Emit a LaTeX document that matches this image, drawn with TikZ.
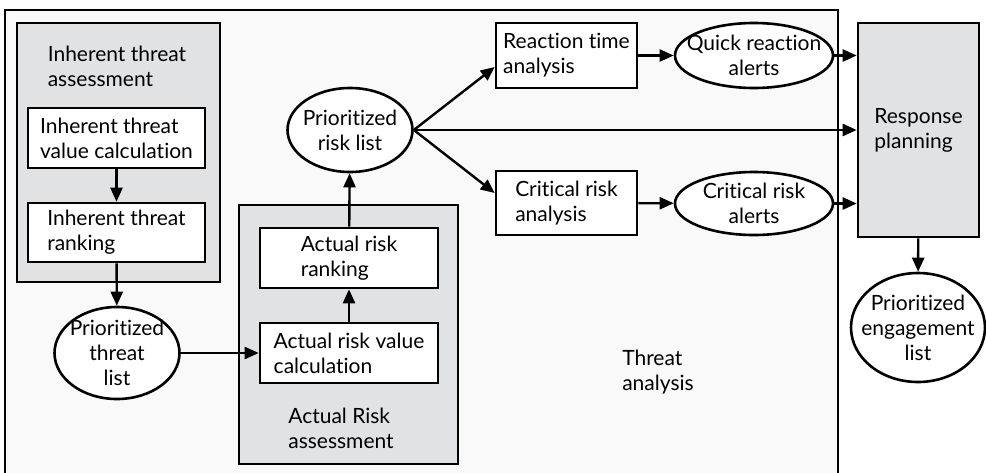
\documentclass[tikz,border=0pt]{standalone}
\usepackage{fontspec}
\setmainfont[Ligatures={NoCommon}]{Lato}
\usetikzlibrary{shapes.geometric,arrows.meta}
\definecolor{panelgray}{HTML}{E1E2E4}
\definecolor{paper}{HTML}{F9F9F9}
\begin{document}
\begin{tikzpicture}[x=1pt, y=-1pt, font=\fontsize{21}{25}\selectfont,
        frame/.style={rectangle, draw, line width=2.6pt, inner sep=0pt},
        procbox/.style={rectangle, draw, fill=white, line width=2.6pt, align=left, inner sep=0pt},
        listnode/.style={ellipse, draw, fill=white, line width=2.6pt, align=center, inner sep=-14pt},
        flow/.style={-{Triangle[length=14pt,width=12pt]}, line width=2.4pt}]

        \useasboundingbox (0, 0) rectangle (986, 472);

        % containers (the outer one runs past the bottom edge)
        \node[frame, fill=paper, minimum width=833, minimum height=474] at (421.5, 247) (threatbox){};
        \node[frame, fill=panelgray, minimum width=203, minimum height=259] at (118.5, 152.5) (inherentbox){};
        \node[frame, fill=panelgray, minimum width=219, minimum height=259] at (348.5, 334.5) (actualbox){};
        \node[frame, fill=panelgray, minimum width=121, minimum height=214, align=left] at (918.5, 130) (planning){Response\\planning};

        \node[align=left] at (117, 66) (inherentlabel){Inherent threat\\assessment};
        \node[align=left] at (341, 428) (actuallabel){Actual Risk\\assessment};
        \node[align=left] at (658, 372) (threatlabel){Threat\\analysis};

        \node[procbox, minimum width=177, minimum height=60] at (116.5, 138) (itvc){Inherent threat\\value calculation};
        \node[procbox, minimum width=177, minimum height=59] at (116.5, 232.5) (itr){Inherent threat\\ranking};
        \node[listnode, minimum width=125, minimum height=92] at (117, 353) (threatlist){Prioritized\\threat\\list};

        \node[procbox, minimum width=178, minimum height=60] at (349, 258) (arr){Actual risk\\ranking};
        \node[procbox, minimum width=178, minimum height=60] at (349, 353) (arvc){Actual risk value\\calculation};
        \node[listnode, minimum width=125, minimum height=84] at (350, 130) (risklist){Prioritized\\risk list};

        \node[procbox, minimum width=141, minimum height=65] at (566.5, 55.5) (rta){Reaction time\\analysis};
        \node[procbox, minimum width=141, minimum height=64] at (566.5, 203) (cra){Critical risk\\analysis};
        \node[listnode, minimum width=158, minimum height=65] at (754, 55.5) (quickalerts){Quick reaction\\alerts};
        \node[listnode, minimum width=158, minimum height=63] at (754, 203.5) (criticalalerts){Critical risk\\alerts};

        \node[listnode, minimum width=134, minimum height=109] at (918, 327.5) (engagement){Prioritized\\engagement\\list};

        \draw[flow] (itvc) -- (itr);
        \draw[flow] (itr) -- (threatlist);
        \draw[flow] (threatlist.east) -- (arvc.west);
        \draw[flow] (arvc) -- (arr);
        \draw[flow] (arr) -- (risklist);

        \draw[flow] (risklist.east) -- ([yshift=-11.5pt]rta.west);
        \draw[flow] (risklist.east) -- ([yshift=10pt]cra.west);
        \draw[flow] (risklist.east) -- (planning.west);

        \draw[flow] (rta) -- (quickalerts);
        \draw[flow] (cra) -- (criticalalerts);
        \draw[flow] (quickalerts.east) -- (quickalerts.east -| planning.west);
        \draw[flow] (criticalalerts.east) -- (criticalalerts.east -| planning.west);

        \draw[flow] (planning) -- (engagement);
\end{tikzpicture}
\end{document}
